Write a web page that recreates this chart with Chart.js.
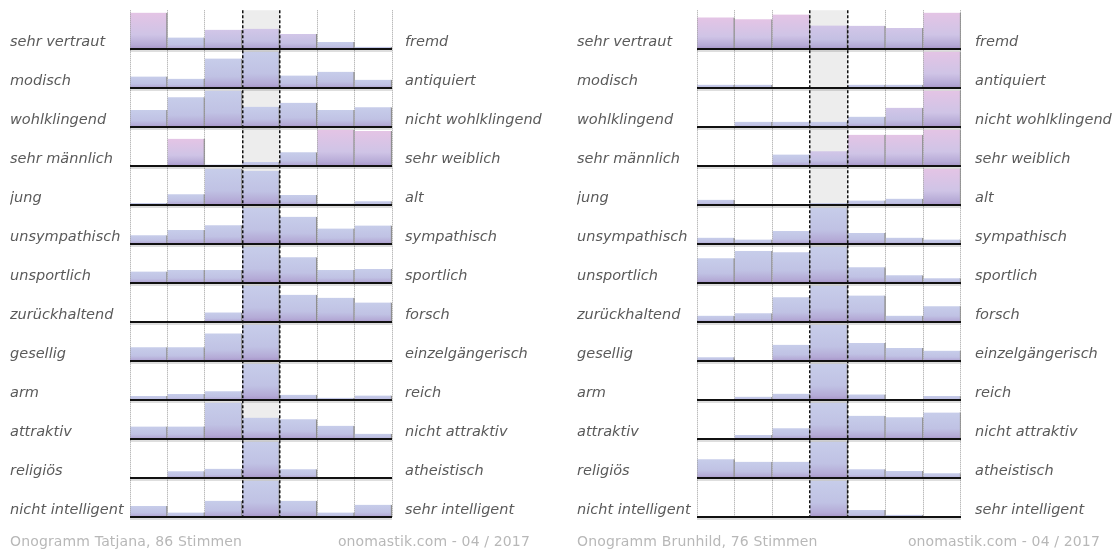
<!DOCTYPE html>
<html>
<head>
<meta charset="utf-8">
<script src="https://cdn.jsdelivr.net/npm/chart.js@4.4.1/dist/chart.umd.min.js"></script>
<style>
  html, body { margin: 0; padding: 0; background: #fff; }
  #wrap { position: relative; width: 1118px; height: 552px; overflow: hidden; font-family: "DejaVu Sans", sans-serif; }
  .panel { position: absolute; top: 0; width: 559px; height: 552px; }
  .foot { position: absolute; top: 534px; font-size: 14px; line-height: 14px; letter-spacing: 0.15px; color: #b8b8b8; white-space: nowrap; }
</style>
</head>
<body>
<div id="wrap">
  <div class="panel" style="left:0"><canvas id="chartTatjana"></canvas></div>
  <div class="panel" style="left:559px"><canvas id="chartBrunhild"></canvas></div>
  <div class="foot" style="left:10px">Onogramm Tatjana, 86 Stimmen</div>
  <div class="foot" style="right:588px">onomastik.com - 04 / 2017</div>
  <div class="foot" style="left:577px">Onogramm Brunhild, 76 Stimmen</div>
  <div class="foot" style="right:18px">onomastik.com - 04 / 2017</div>
</div>

<script>
// scale points of each rating (-3 .. +3, 0 = neutral)
const scalePoints = ['-3', '-2', '-1', '0', '1', '2', '3'];

const leftLabels = ['sehr vertraut', 'modisch', 'wohlklingend', 'sehr männlich', 'jung', 'unsympathisch',
    'unsportlich', 'zurückhaltend', 'gesellig', 'arm', 'attraktiv', 'religiös', 'nicht intelligent'];
const rightLabels = ['fremd', 'antiquiert', 'nicht wohlklingend', 'sehr weiblich', 'alt', 'sympathisch',
    'sportlich', 'forsch', 'einzelgängerisch', 'reich', 'nicht attraktiv', 'atheistisch', 'sehr intelligent'];

// relative bar heights per row (max of a row = 100)
const tatjanaValues = [
    [100, 32, 53, 56, 42, 20, 7],
    [32, 26, 81, 100, 35, 45, 23],
    [47, 82, 100, 56, 67, 47, 55],
    [0, 75, 5, 12, 38, 100, 96],
    [6, 30, 100, 94, 28, 5, 11],
    [25, 39, 52, 100, 75, 43, 51],
    [32, 36, 36, 100, 71, 36, 39],
    [3, 2, 27, 100, 75, 67, 54],
    [38, 38, 76, 100, 1, 1, 1],
    [12, 17, 25, 100, 15, 7, 13],
    [35, 35, 100, 59, 55, 37, 15],
    [3, 19, 26, 100, 25, 1, 1],
    [31, 13, 45, 100, 45, 13, 34]
];
const brunhildValues = [
    [87, 82, 95, 65, 64, 58, 100],
    [10, 10, 0, 0, 10, 10, 100],
    [2, 15, 15, 15, 29, 53, 100],
    [0, 0, 32, 41, 86, 86, 100],
    [15, 0, 0, 6, 13, 18, 100],
    [18, 13, 36, 100, 31, 18, 13],
    [68, 88, 85, 100, 44, 22, 14],
    [18, 25, 68, 100, 73, 18, 44],
    [11, 3, 45, 100, 50, 36, 29],
    [0, 10, 18, 100, 16, 3, 12],
    [0, 12, 30, 100, 64, 60, 73],
    [52, 45, 45, 100, 25, 20, 14],
    [0, 0, 0, 100, 20, 7, 2]
];

// distinctive ratings (row, column) shown with the warm tint
const tatjanaWarm = [[0, 0], [3, 1], [3, 5], [3, 6]];
const brunhildWarm = [[0, 0], [0, 1], [0, 2], [0, 6], [1, 6], [2, 6], [3, 4], [3, 5], [3, 6], [4, 6]];

const FULL = 0.94;
const TONES = {
    cool: ['#c7cdea', '#c0c2e4', '#b4aad6', '#a693c7'],
    lilac: ['#d2c6e8', '#c4c0e3', '#b4aad6', '#a693c7'],
    warm: ['#e4c4e5', '#cfc4e6', '#b6aad6', '#a693c7']
};

function toneOf(values, warm, r, c) {
    if (warm.some(w => w[0] === r && w[1] === c)) return 'warm';
    const rowWarm = warm.some(w => w[0] === r);
    if (rowWarm && values[r][c] >= 40) return 'lilac';
    return 'cool';
}

function barFill(ctx, tone) {
    const chart = ctx.chart;
    const cols = TONES[tone];
    if (!chart.chartArea || !ctx.raw) return cols[1];
    const y = chart.scales.y;
    const top = y.getPixelForValue(ctx.raw[1]);
    const bottom = y.getPixelForValue(ctx.raw[0]);
    if (bottom - top < 1) return cols[3];
    const g = chart.ctx.createLinearGradient(0, top, 0, bottom);
    g.addColorStop(0, cols[0]);
    g.addColorStop(0.6, cols[1]);
    g.addColorStop(0.88, cols[2]);
    g.addColorStop(1, cols[3]);
    return g;
}

function buildDatasets(values, warm) {
    const sets = values.map((row, r) => ({
        data: row.map(v => v > 0 ? [r + 1, r + 1 - v / 100 * FULL] : null),
        backgroundColor: (ctx) => barFill(ctx, toneOf(values, warm, r, ctx.dataIndex)),
        borderColor: '#8e8e8e',
        borderWidth: { top: 0, right: 1.5, bottom: 0, left: 0 },
        borderSkipped: false,
        order: 0
    }));
    // light grey background of the neutral column
    sets.push({
        data: scalePoints.map((p, i) => i === 3 ? [0, values.length] : null),
        backgroundColor: '#ededed',
        borderWidth: 0,
        order: 1
    });
    return sets;
}

const labelFont = { family: '"DejaVu Sans", sans-serif', size: 14.5, style: 'italic' };

function rowAxis(rows, tickPos, width, extra) {
    return Object.assign({
        type: 'linear',
        reverse: true,
        min: 0,
        max: rows,
        border: { display: false },
        afterBuildTicks: (s) => { s.ticks = tickPos.map(v => ({ value: v })); },
        afterFit: (s) => { s.width = width; s.paddingTop = 0; s.paddingBottom = 0; }
    }, extra);
}

function makeChart(id, values, warm, cfg) {
    const rows = values.length;
    const labelPos = leftLabels.map((l, i) => i + 0.83);
    const basePos = leftLabels.map((l, i) => i + 1);
    const shadowPos = leftLabels.map((l, i) => i + 1.055);
    new Chart(document.getElementById(id), {
        type: 'bar',
        data: { labels: scalePoints, datasets: buildDatasets(values, warm) },
        options: {
            responsive: true,
            maintainAspectRatio: false,
            animation: false,
            layout: { padding: { left: cfg.padLeft, right: 0, top: 10.3, bottom: 34.7 } },
            plugins: { legend: { display: false }, tooltip: { enabled: false } },
            datasets: { bar: { grouped: false, barPercentage: 1, categoryPercentage: 1 } },
            scales: {
                x: {
                    type: 'category',
                    offset: true,
                    grid: {
                        offset: true, drawTicks: false, lineWidth: 1, z: 1,
                        color: (c) => (c.index === 3 || c.index === 4) ? 'rgba(0,0,0,0)' : '#a0a0a0'
                    },
                    border: { display: false, dash: [1, 1] },
                    ticks: { display: false },
                    afterFit: (s) => { s.height = 0; }
                },
                xMid: {
                    type: 'category',
                    position: 'bottom',
                    offset: true,
                    grid: {
                        offset: true, drawTicks: false, lineWidth: 1.5, z: 2,
                        color: (c) => (c.index === 3 || c.index === 4) ? '#111' : 'rgba(0,0,0,0)'
                    },
                    border: { display: false, dash: [3, 2] },
                    ticks: { display: false },
                    afterFit: (s) => { s.height = 0; }
                },
                y: rowAxis(rows, labelPos, 120, {
                    position: 'left',
                    grid: { display: false, drawTicks: false },
                    ticks: {
                        crossAlign: 'far', padding: 0, color: '#5a5a5a', font: labelFont,
                        callback: (v, i) => leftLabels[i]
                    }
                }),
                yRight: rowAxis(rows, labelPos, cfg.rightWidth, {
                    position: 'right',
                    grid: { display: false, drawTicks: false },
                    ticks: {
                        crossAlign: 'near', padding: cfg.rightPad, color: '#5a5a5a', font: labelFont,
                        callback: (v, i) => rightLabels[i]
                    }
                }),
                yShadow: rowAxis(rows, shadowPos, 0, {
                    position: 'left',
                    grid: { drawTicks: false, color: 'rgba(0,0,0,0.13)', lineWidth: 2, z: 3 },
                    ticks: { display: false }
                }),
                yBase: rowAxis(rows, basePos, 0, {
                    position: 'left',
                    grid: { drawTicks: false, color: '#111', lineWidth: 2, z: 4 },
                    ticks: { display: false }
                })
            }
        }
    });
}

makeChart('chartTatjana', tatjanaValues, tatjanaWarm, { padLeft: 10, rightWidth: 167, rightPad: 13 });
makeChart('chartBrunhild', brunhildValues, brunhildWarm, { padLeft: 18, rightWidth: 157, rightPad: 14 });
</script>
</body>
</html>
